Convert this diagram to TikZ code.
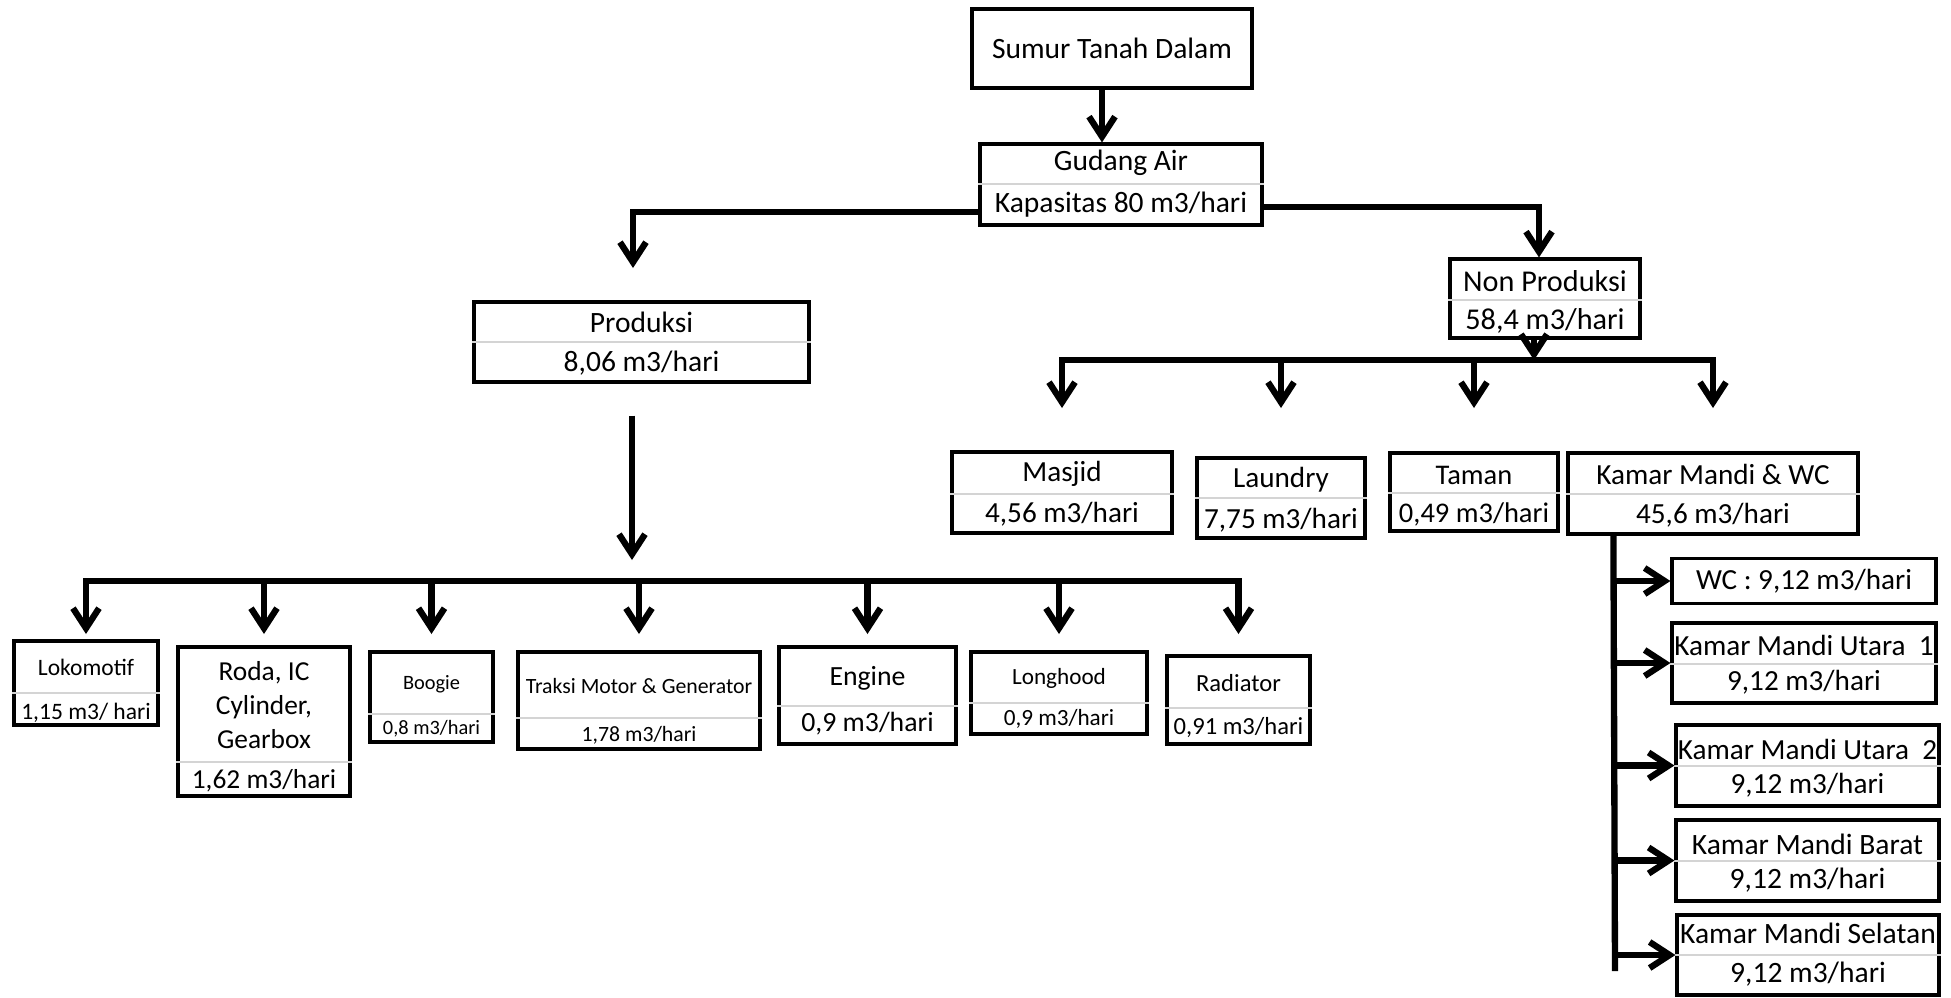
\documentclass[tikz,border=0pt]{standalone}
\usepackage{fontspec}
\setmainfont{Carlito}
\usetikzlibrary{arrows.meta}

\begin{document}
\begin{tikzpicture}[x=0.1mm, y=-0.1mm,
    box/.style={draw, line width=0.9pt, inner sep=0pt},
    txt/.style={inner sep=0pt, align=center},
    divider/.style={draw=black!17, line width=0.8pt},
    pipe/.style={line width=1.8pt, line cap=rect},
    flow/.style={line width=1.8pt, -{Straight Barb[length=2mm, width=2.6mm]}}]

    \useasboundingbox (0,0) rectangle (1951,997);

    \node[box, minimum width=28mm, minimum height=7.9mm,
          font=\fontsize{8.4}{10}\selectfont] (sumur) at (1112,48.5) {Sumur Tanah Dalam};
    \node[box, minimum width=26.4mm, minimum height=4.5mm,
          font=\fontsize{8.3}{10}\selectfont] (wc) at (1804,581) {WC : 9,12 m3/hari};

    \foreach \n/\cx/\cy/\w/\h/\d/\ta/\tb/\a/\b/\f in {
        gudang/1121/184.5/28.2/8.1/184/163/205/{Gudang Air}/{Kapasitas 80 m3/hari}/8.4,
        produksi/641.5/342/33.5/8.0/342/322/363/Produksi/{8,06 m3/hari}/8.4,
        nonprod/1545/298.5/19.0/7.9/300/281/321/{Non Produksi}/{58,4 m3/hari}/8.6,
        loko/86/683/14.4/8.4/693/667/713/Lokomotif/{1,15 m3/ hari}/6.7,
        roda/264/721.5/17.2/14.9/762/705/781/{Roda, IC\\Cylinder,\\Gearbox}/{1,62 m3/hari}/7.8,
        boogie/431.5/697/12.3/9.0/714/684/729/Boogie/{0,8 m3/hari}/5.8,
        traksi/639/700.5/24.2/9.7/718/686/735/{Traksi Motor \& Generator}/{1,78 m3/hari}/6.2,
        engine/867.5/695.5/17.7/9.7/706/678/724/Engine/{0,9 m3/hari}/7.9,
        longhood/1059/693/17.6/8.2/703/678/719/Longhood/{0,9 m3/hari}/6.6,
        radiator/1238.5/700/14.3/8.8/708/683/728/Radiator/{0,91 m3/hari}/7,
        masjid/1062/492.5/22.0/8.1/494/474/514/Masjid/{4,56 m3/hari}/8.3,
        laundry/1281/498/16.8/8.0/498/480/520/Laundry/{7,75 m3/hari}/8.3,
        taman/1474/492/16.8/7.8/493/475/514/Taman/{0,49 m3/hari}/8.1,
        kamar/1713/493.5/29.0/8.1/494/474/515/{Kamar Mandi \& WC}/{45,6 m3/hari}/8.3,
        utara1/1804/663/26.4/8.0/664/645/682/{Kamar Mandi Utara~~1}/{9,12 m3/hari}/8.3,
        utara2/1807.5/765.5/26.3/8.1/766/749/785/{Kamar Mandi Utara~~2}/{9,12 m3/hari}/8.3,
        barat/1807.5/860.5/26.3/8.1/861/844/880/{Kamar Mandi Barat}/{9,12 m3/hari}/8.4,
        selatan/1808/955/26.2/8.0/955/933/974/{Kamar Mandi Selatan}/{9,12 m3/hari}/8.4} {
        \node[box, minimum width=\w mm, minimum height=\h mm] (\n) at (\cx,\cy) {};
        \draw[divider] (\n.west |- 0,\d) -- (\n.east |- 0,\d);
        \node[txt, font=\fontsize{\f}{9.7}\selectfont] (\n-a) at (\cx,\ta) {\a};
        \node[txt, font=\fontsize{\f}{9.7}\selectfont] (\n-b) at (\cx,\tb) {\b};
    }

    \coordinate (s) at ([xshift=-1mm]sumur.south);
    \draw[flow] (s) -- (s |- gudang.north);

    \coordinate (prodIn) at (633,268);
    \coordinate (nonIn) at ([xshift=-0.6mm]nonprod.north);
    \draw[flow] ([yshift=-2.75mm]gudang.west) -| (prodIn);
    \draw[flow] ([yshift=-2.25mm]gudang.east) -| (nonIn);

    \coordinate (pTip) at (632,560);
    \coordinate (pBus) at (0,581);
    \coordinate (pTips) at (0,634);
    \draw[flow, shorten <=3.2mm] (produksi.south -| pTip) -- (pTip);
    \draw[pipe] (loko.north |- pBus) -- (radiator.north |- pBus);
    \foreach \n in {loko,roda,boogie,traksi,engine,longhood,radiator} {
        \draw[flow] (\n.north |- pBus) -- (\n.north |- pTips);
    }

    \coordinate (nOut) at ([xshift=-1.1mm]nonprod.south);
    \coordinate (nBus) at (0,360);
    \coordinate (nTips) at (0,408);
    \draw[flow] (nOut) -- (nOut |- nBus);
    \draw[pipe] (masjid.north |- nBus) -- (kamar.north |- nBus);
    \foreach \n in {masjid,laundry,taman,kamar} {
        \draw[flow] (\n.north |- nBus) -- (\n.north |- nTips);
    }

    \coordinate (kBus) at ([xshift=4.7mm]kamar.south west);
    \coordinate (kEnd) at (1615,968);
    \draw[pipe] (kBus) -- (kEnd);
    \foreach \n in {wc,utara1,utara2,barat,selatan} {
        \draw[flow] (kBus |- \n.west) -- (\n.west);
    }
\end{tikzpicture}
\end{document}
